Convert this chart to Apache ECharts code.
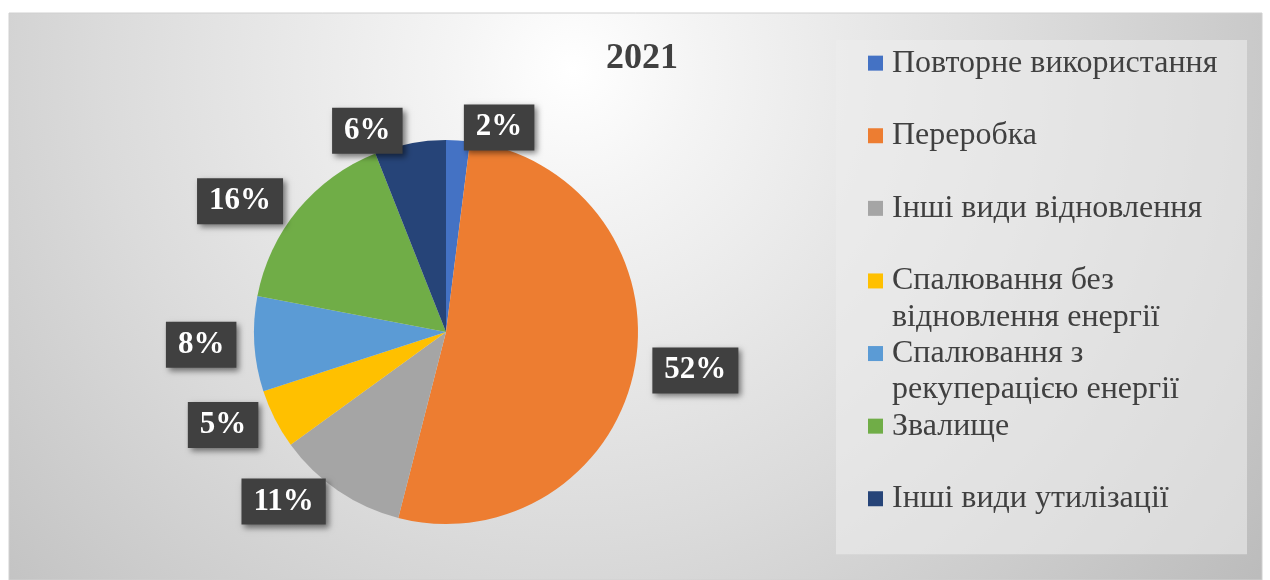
<!DOCTYPE html>
<html lang="uk">
<head>
    <meta charset="UTF-8">
    <title>2021</title>
    <style>
        html,body{
            padding: 0;
            margin: 0;
            width: 100%;
            height: 100%;
            background: #fff;
        }
        .map{
            width: 1270px;
            height: 580px;
        }
    </style>
    <script src="https://cdn.jsdelivr.net/npm/echarts@6/dist/echarts.min.js"></script>
</head>
<body>
<div class="map"></div>
<script>
    // дані з діаграми
    let categories = [
        'Повторне використання',
        'Переробка',
        'Інші види відновлення',
        'Спалювання без\nвідновлення енергії',
        'Спалювання з\nрекуперацією енергії',
        'Звалище',
        'Інші види утилізації'
    ];
    let values = [2, 52, 11, 5, 8, 16, 6];
    let colors = ['#4472C4', '#ED7D31', '#A5A5A5', '#FFC000', '#5B9BD5', '#70AD47', '#264478'];

    let map = document.querySelector('.map');
    let myChart = echarts.init(map);

    let serif = '"Liberation Serif", "Times New Roman", serif';
    let lh = 36.3;

    let rich = {
        e: {width: 15, lineHeight: lh},
        sp: {width: 9, lineHeight: lh},
        t: {
            fontFamily: serif,
            fontSize: 32,
            color: '#404040',
            lineHeight: lh,
            width: 326
        }
    };
    colors.forEach((c, i) => {
        rich['c' + i] = {width: 15, height: 15, lineHeight: lh, backgroundColor: c};
    });

    let pieData = categories.map((name, i) => ({name: name, value: values[i]}));

    let option = {
        backgroundColor: '#fff',
        color: colors,
        animation: false,
        graphic: [{
            type: 'rect',
            z: -10,
            shape: {x: 9, y: 13, width: 1253, height: 567},
            style: {
                fill: new echarts.graphic.RadialGradient(0.45, 0.1, 1.5, [
                    {offset: 0, color: '#ffffff'},
                    {offset: 0.15, color: '#f4f4f4'},
                    {offset: 0.55, color: '#dbdbdb'},
                    {offset: 1, color: '#bcbcbc'}
                ]),
                stroke: '#d0d0d0',
                lineWidth: 1
            }
        }],
        title: {
            text: '2021',
            left: 637,
            top: 36,
            textAlign: 'center',
            textStyle: {
                fontFamily: serif,
                fontSize: 36,
                fontWeight: 'bold',
                color: '#404040'
            }
        },
        legend: {
            orient: 'vertical',
            left: 836,
            top: 40,
            icon: 'none',
            itemWidth: 0,
            itemHeight: 0,
            itemGap: 0,
            padding: [5, 29, 1, 27],
            backgroundColor: 'rgba(236,236,236,0.6)',
            selectedMode: false,
            data: categories,
            formatter: function (name) {
                let i = categories.indexOf(name);
                let lines = name.split('\n');
                if (lines.length === 1) lines.push('\u00a0');
                return lines.map((l, k) =>
                    (k === 0 ? '{c' + i + '|}' : '{e|}') + '{sp|}{t|' + l + '}'
                ).join('\n');
            },
            textStyle: {
                fontFamily: serif,
                fontSize: 32,
                lineHeight: lh,
                rich: rich
            }
        },
        series: [{
            type: 'pie',
            center: [446, 332],
            radius: 192,
            startAngle: 90,
            clockwise: true,
            data: pieData,
            emphasis: {scale: false},
            itemStyle: {borderWidth: 0},
            label: {
                show: true,
                position: 'outside',
                formatter: function (p) {
                    return p.value + '%';
                },
                fontFamily: serif,
                fontSize: 31,
                fontWeight: 'bold',
                color: '#fff',
                backgroundColor: '#404040',
                padding: [8, 12, 7, 12],
                shadowColor: 'rgba(0,0,0,0.5)',
                shadowBlur: 6,
                shadowOffsetX: 3,
                shadowOffsetY: 3
            },
            labelLine: {
                show: false,
                length: 13,
                length2: 0
            }
        }]
    };

    myChart.setOption(option);
</script>
</body>
</html>
